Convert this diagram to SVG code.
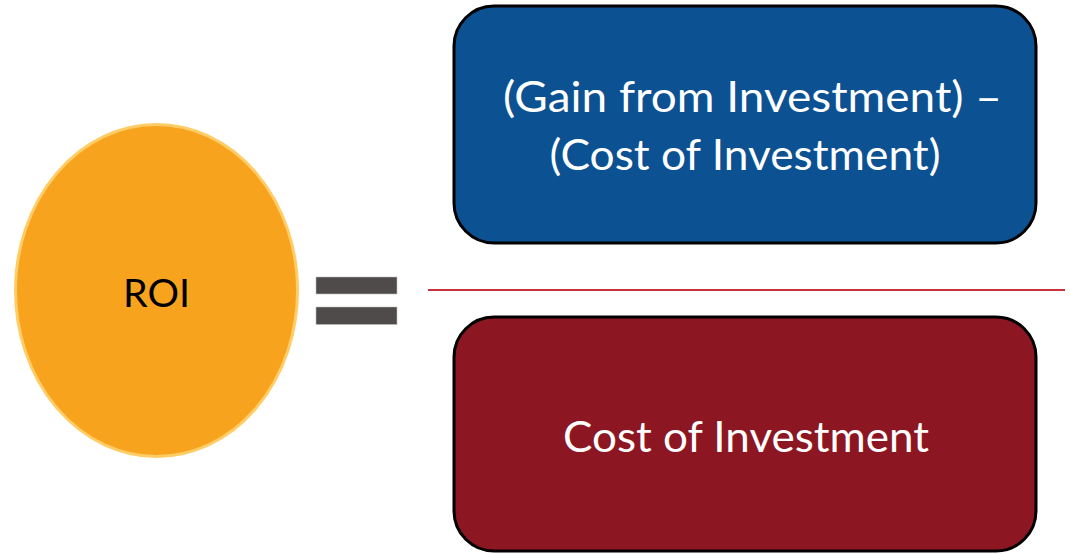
<svg xmlns="http://www.w3.org/2000/svg" width="1070" height="554" viewBox="0 0 1070 554">
<style>
.lbl{font-family:Lato,"Open Sans","Liberation Sans",sans-serif;text-anchor:middle}
.w{fill:#ffffff;font-size:42px}
.box{stroke:#000000;stroke-width:3}
.bar{fill:#4f4b4a;stroke:#bdbdbd;stroke-width:0.6}
</style>
<rect width="1070" height="554" fill="#ffffff"/>
<g id="roi">
<ellipse cx="156.5" cy="290.5" rx="141" ry="166" fill="#f8a31e" stroke="#ffcc66" stroke-width="3"/>
<text class="lbl" x="156.5" y="307" font-size="39" fill="#000000" textLength="67" lengthAdjust="spacingAndGlyphs">ROI</text>
</g>
<g id="equals">
<rect class="bar" x="316" y="277" width="81" height="17"/>
<rect class="bar" x="316" y="307" width="81" height="17.5"/>
</g>
<g id="numerator">
<rect class="box" x="454" y="6" width="582" height="237" rx="40" ry="40" fill="#0c5191"/>
<text class="lbl w" x="752.5" y="112" textLength="499" lengthAdjust="spacingAndGlyphs">(Gain from Investment) –</text>
<text class="lbl w" x="745" y="170" textLength="391" lengthAdjust="spacingAndGlyphs">(Cost of Investment)</text>
</g>
<g id="connectors">
<line x1="428" y1="290" x2="1065" y2="290" stroke="#c8323c" stroke-width="2"/>
</g>
<g id="denominator">
<rect class="box" x="454" y="317" width="582" height="234" rx="40" ry="40" fill="#8c1622"/>
<text class="lbl w" x="746" y="452" textLength="366" lengthAdjust="spacingAndGlyphs">Cost of Investment</text>
</g>
</svg>
